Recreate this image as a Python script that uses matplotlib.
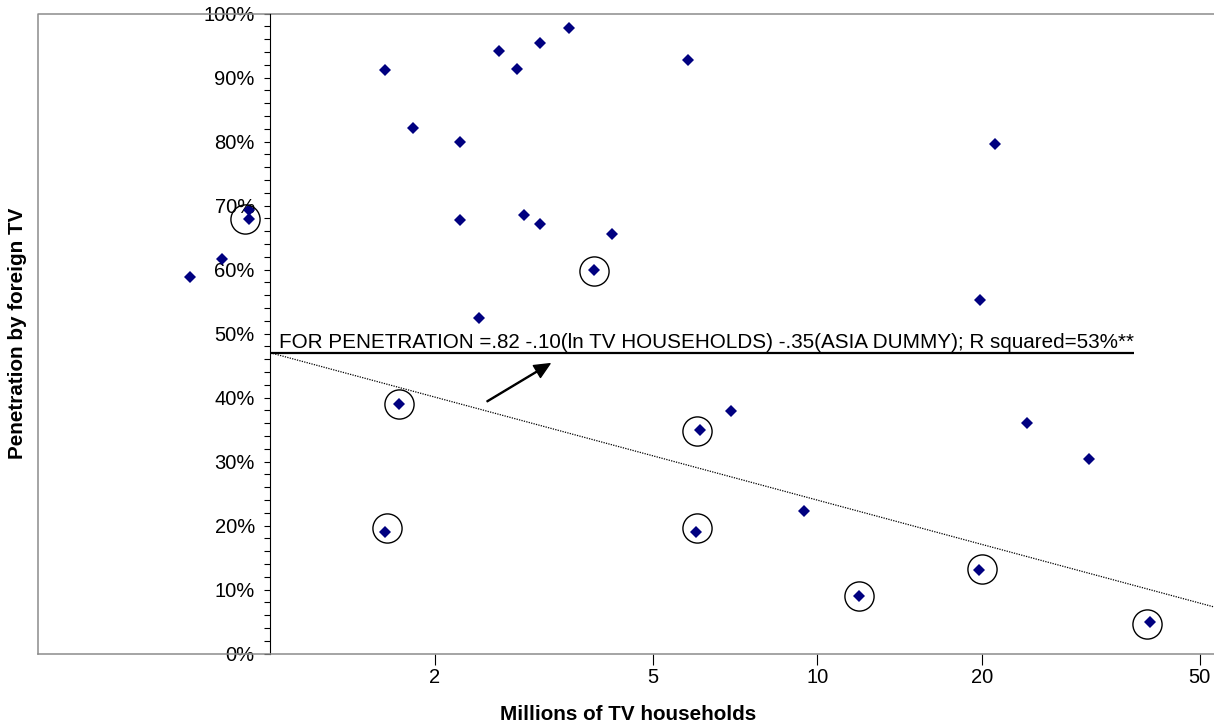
import numpy as np
import matplotlib.pyplot as plt
from matplotlib.ticker import FixedLocator, MultipleLocator, PercentFormatter, NullLocator, FixedFormatter

# millions of TV households (x) and share reached by foreign TV (y)
households = [0.713, 0.815, 0.913, 0.913, 1.62, 1.82, 2.22, 2.62, 2.82, 3.11, 3.51, 5.80,
              2.22, 2.91, 3.11, 4.21, 2.41, 3.91, 1.72, 6.96, 6.11, 1.62, 6.0, 9.45,
              11.92, 19.75, 19.8, 21.1, 24.2, 31.4, 40.5]
penetration = [0.589, 0.616, 0.693, 0.679, 0.912, 0.822, 0.799, 0.941, 0.914, 0.954, 0.978, 0.927,
               0.677, 0.685, 0.671, 0.655, 0.525, 0.599, 0.390, 0.379, 0.350, 0.190, 0.190, 0.223,
               0.090, 0.130, 0.552, 0.796, 0.361, 0.304, 0.050]

# circled points (Asia)
asia_households = [0.898, 3.91, 1.717, 6.03, 1.633, 6.03, 11.92, 20.0, 40.1]
asia_penetration = [0.679, 0.598, 0.390, 0.347, 0.196, 0.196, 0.090, 0.1325, 0.0456]

x_ticks = [2, 5, 10, 20, 50]
x_tick_labels = ['2', '5', '10', '20', '50']

# fitted line shown on the chart: .47 - .10 ln(households)
intercept = 0.47
slope = -0.10

eq_text = "FOR PENETRATION =.82 -.10(ln TV HOUSEHOLDS) -.35(ASIA DUMMY); R squared=53%**"

plt.rcParams['font.family'] = ['Liberation Sans', 'DejaVu Sans']

W, H = 1214, 728
fig = plt.figure(figsize=(W / 100, H / 100), dpi=100)
ax = fig.add_axes([38 / W, (H - 653.5) / H, 1 - 38 / W, (653.5 - 13.7) / H])

ax.set_xscale('log')
ax.set_xlim(0.376, 53.1)
ax.set_ylim(0, 1)

grey = '#8c8c8c'
ax.spines['top'].set_visible(False)
ax.spines['right'].set_visible(False)
ax.spines['bottom'].set_color(grey)
ax.spines['bottom'].set_linewidth(1.1)
ax.spines['left'].set_position(('data', 1))
ax.spines['left'].set_color('black')
ax.spines['left'].set_linewidth(0.8)
ax.plot([0, 0, 1], [0, 1, 1], transform=ax.transAxes, color=grey, lw=1.1, clip_on=False)

ax.xaxis.set_major_locator(FixedLocator(x_ticks))
ax.xaxis.set_major_formatter(FixedFormatter(x_tick_labels))
ax.xaxis.set_minor_locator(NullLocator())
ax.tick_params(axis='x', which='major', length=7.7, width=0.8, color='black', pad=3, labelsize=14.5)

ax.yaxis.set_major_locator(MultipleLocator(0.1))
ax.yaxis.set_minor_locator(MultipleLocator(0.02))
ax.yaxis.set_major_formatter(PercentFormatter(1.0, decimals=0))
ax.tick_params(axis='y', which='both', length=4.2, width=0.8, color='black', pad=7, labelsize=14.5)

# trend line
xr = np.array([1, ax.get_xlim()[1]])
ax.plot(xr, intercept + slope * np.log(xr), color='black', lw=0.9, linestyle=(0, (1, 1)))

ax.plot(households, penetration, linestyle='none', marker='D', markersize=6.5,
        color='#000080', markeredgewidth=0)
ax.plot(asia_households, asia_penetration, linestyle='none', marker='o', markersize=21,
        markerfacecolor='none', markeredgecolor='black', markeredgewidth=1.0)

txt = ax.text(1.035, 0.477, eq_text, fontsize=14.9, va='baseline', ha='left')
fig.canvas.draw()
bb = txt.get_window_extent()
inv = ax.transData.inverted()
ux1 = inv.transform((bb.x1, 0))[0]
ax.plot([1, ux1], [0.47, 0.47], color='black', lw=1.6, solid_capstyle='butt')

ax.annotate('', xy=(3.245, 0.453), xytext=(2.49, 0.394),
            arrowprops=dict(facecolor='black', edgecolor='black', width=0.7,
                            headwidth=10, headlength=11, shrink=0))

fig.text(18 / W, 1 - 333 / H, 'Penetration by foreign TV', rotation=90, ha='center', va='center',
         fontsize=14.9, fontweight='bold')
fig.text(628 / W, 1 - 715 / H, 'Millions of TV households', ha='center', va='center',
         fontsize=14.9, fontweight='bold')

fig.savefig('out.png', dpi=100)
